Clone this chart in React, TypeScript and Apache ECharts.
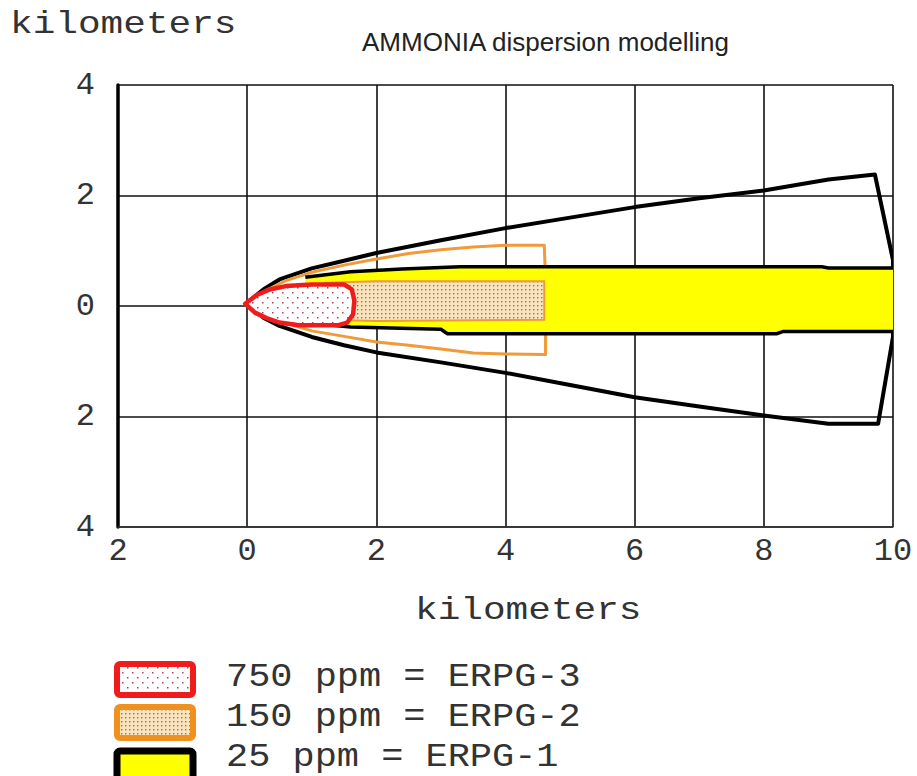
import React, { useEffect, useRef } from "react";
import * as echarts from "echarts";

// ---- axis setup ----
const xMin = -2, xMax = 10, xStep = 2;
const yMin = -4, yMax = 4, yStep = 2;

// ---- plume outlines (km downwind, km crosswind) ----
// 25 ppm (ERPG-1) outer footprint
const erpg1Envelope: [number, number][] = [
  [0, 0.06], [0.25, 0.3], [0.5, 0.48], [1, 0.68], [1.5, 0.82], [2, 0.96], [3, 1.19], [4, 1.41],
  [5, 1.6], [6, 1.79], [7, 1.95], [8, 2.09], [9, 2.29], [9.72, 2.38], [10, 0.83],
  [10, -0.56], [9.77, -2.13], [9, -2.13], [8, -1.98], [7, -1.82], [6, -1.65], [5, -1.43],
  [4, -1.21], [3, -1.02], [2, -0.84], [1.5, -0.71], [1, -0.56], [0.5, -0.36], [0.25, -0.21],
];
// 25 ppm (ERPG-1) core band (yellow)
const erpg1BandUpper: [number, number][] = [
  [0.9, 0.52], [1.6, 0.62], [2.4, 0.67], [3.3, 0.71], [8.9, 0.71], [9, 0.69], [10, 0.69],
];
const erpg1BandLower: [number, number][] = [
  [10, -0.46], [8.3, -0.46], [8.2, -0.5], [3.1, -0.5], [3.0, -0.42], [1.6, -0.38], [0.9, -0.3],
];
// 150 ppm (ERPG-2) outer footprint
const erpg2Envelope: [number, number][] = [
  [0.05, 0.06], [0.3, 0.29], [0.6, 0.46], [1, 0.61], [1.5, 0.74], [2, 0.85], [2.5, 0.95], [3, 1.02],
  [3.5, 1.07], [4, 1.1], [4.6, 1.1], [4.62, 0.5], [4.62, -0.88], [4, -0.87], [3.5, -0.85],
  [3, -0.78], [2.5, -0.71], [2, -0.65], [1.5, -0.55], [1, -0.45], [0.6, -0.31], [0.3, -0.17],
];
// 150 ppm (ERPG-2) core band
const erpg2Core: [number, number][] = [
  [1.2, 0.42], [2, 0.45], [4.6, 0.45], [4.6, -0.25], [2, -0.27], [1.2, -0.25],
];
// 750 ppm (ERPG-3)
const erpg3Zone: [number, number][] = [
  [-0.03, 0.04], [0.15, 0.2], [0.35, 0.3], [0.6, 0.36], [1.0, 0.39], [1.5, 0.39], [1.62, 0.3],
  [1.66, 0.1], [1.64, -0.15], [1.55, -0.3], [1.4, -0.35], [0.8, -0.35], [0.5, -0.3],
  [0.3, -0.22], [0.12, -0.12],
];

const legendLabels = ["750 ppm = ERPG-3", "150 ppm = ERPG-2", "25 ppm = ERPG-1"];
const titleText = "AMMONIA dispersion modelling";
const axisName = "kilometers";

const MONO = '"Liberation Mono", "DejaVu Sans Mono", monospace';
const SANS = '"Liberation Sans", Arial, sans-serif';

function makePattern(bg: string, dot: string, w: number, h: number, dots: [number, number][], size = 1.6) {
  const c = document.createElement("canvas");
  c.width = w;
  c.height = h;
  const ctx = c.getContext("2d")!;
  ctx.fillStyle = bg;
  ctx.fillRect(0, 0, w, h);
  ctx.fillStyle = dot;
  dots.forEach(([x, y]) => ctx.fillRect(x, y, size, size));
  return { image: c.toDataURL(), imageWidth: w, imageHeight: h, repeat: "repeat" as const };
}

function shapeSeries(pts: [number, number][], style: any, closed = true) {
  return {
    type: "custom",
    coordinateSystem: "cartesian2d",
    silent: true,
    clip: true,
    data: pts,
    encode: { x: 0, y: 1 },
    renderItem: (params: any, api: any) => {
      if (params.dataIndex !== 0) return null;
      const points = pts.map((p) => api.coord(p));
      return {
        type: closed ? "polygon" : "polyline",
        shape: { points },
        style,
      };
    },
  };
}

export default function App() {
  const ref = useRef<HTMLDivElement>(null);

  useEffect(() => {
    if (!ref.current) return;
    const chart = echarts.init(ref.current, null, { renderer: "svg" });

    const redDots = makePattern("#ffffff", "#b04058", 10, 10, [[2, 2], [7, 7]], 1.5);
    const tanDots = makePattern("#f8e3bd", "#9a7258", 4, 4, [[1, 1]], 1.4);

    const bandPoly = [...erpg1BandUpper, ...erpg1BandLower];

    chart.setOption({
      animation: false,
      backgroundColor: "#ffffff",
      grid: { left: 118, top: 85, right: 24, bottom: 249, containLabel: false },
      xAxis: {
        type: "value",
        min: xMin,
        max: xMax,
        interval: xStep,
        axisLine: { show: true, onZero: false, lineStyle: { color: "#333", width: 1.5 } },
        axisTick: { show: false },
        axisLabel: {
          formatter: (v: number) => String(Math.abs(v)),
          fontFamily: MONO,
          fontSize: 32,
          color: "#333",
          margin: 8,
        },
        splitLine: { show: true, lineStyle: { color: "#111", width: 1.6 } },
      },
      yAxis: {
        type: "value",
        min: yMin,
        max: yMax,
        interval: yStep,
        axisLine: { show: true, onZero: false, lineStyle: { color: "#000", width: 3.5 } },
        axisTick: { show: false },
        axisLabel: {
          formatter: (v: number) => String(Math.abs(v)),
          fontFamily: MONO,
          fontSize: 32,
          color: "#333",
          margin: 23,
        },
        splitLine: { show: true, lineStyle: { color: "#111", width: 1.6 } },
      },
      series: [
        shapeSeries(erpg1Envelope, { fill: "rgba(255,255,255,0)", stroke: "#000", lineWidth: 4, lineJoin: "round" }),
        shapeSeries(erpg2Envelope, { fill: "rgba(255,255,255,0)", stroke: "#f09a3a", lineWidth: 3, lineJoin: "round" }),
        shapeSeries(bandPoly, { fill: "#ffff00", stroke: "none" }),
        shapeSeries(erpg1BandUpper, { fill: "none", stroke: "#000", lineWidth: 3.5 }, false),
        shapeSeries(erpg1BandLower, { fill: "none", stroke: "#000", lineWidth: 3.5 }, false),
        shapeSeries(erpg2Core, { fill: tanDots, stroke: "#f09a3a", lineWidth: 2 }),
        shapeSeries(erpg3Zone, { fill: redDots, stroke: "#ee1c1c", lineWidth: 4.5, lineJoin: "round" }),
      ],
      graphic: [
        {
          type: "text",
          x: 10,
          y: 25,
          scaleX: 1.18,
          style: { text: axisName, font: `32px ${MONO}`, fill: "#333", verticalAlign: "middle" },
        },
        {
          type: "text",
          x: 362,
          y: 42,
          style: { text: titleText, font: `26px ${SANS}`, fill: "#222", verticalAlign: "middle" },
        },
        {
          type: "text",
          x: 415,
          y: 611,
          scaleX: 1.18,
          style: { text: axisName, font: `32px ${MONO}`, fill: "#333", verticalAlign: "middle" },
        },
        {
          type: "rect",
          shape: { x: 117, y: 664, width: 76, height: 31, r: 3 },
          style: { fill: redDots, stroke: "#ee1c1c", lineWidth: 6 },
        },
        {
          type: "rect",
          shape: { x: 117, y: 707, width: 76, height: 31, r: 3 },
          style: { fill: tanDots, stroke: "#f0901e", lineWidth: 6 },
        },
        {
          type: "rect",
          shape: { x: 117, y: 751, width: 76, height: 31, r: 3 },
          style: { fill: "#ffff00", stroke: "#000", lineWidth: 7 },
        },
        ...legendLabels.map((t, i) => ({
          type: "text",
          x: 226,
          y: 678 + i * 40,
          scaleX: 1.12,
          style: { text: t, font: `33px ${MONO}`, fill: "#333", verticalAlign: "middle" },
        })),
      ],
    });

    return () => chart.dispose();
  }, []);

  return <div ref={ref} style={{ width: 917, height: 776, position: "absolute", left: 0, top: 0 }} />;
}
